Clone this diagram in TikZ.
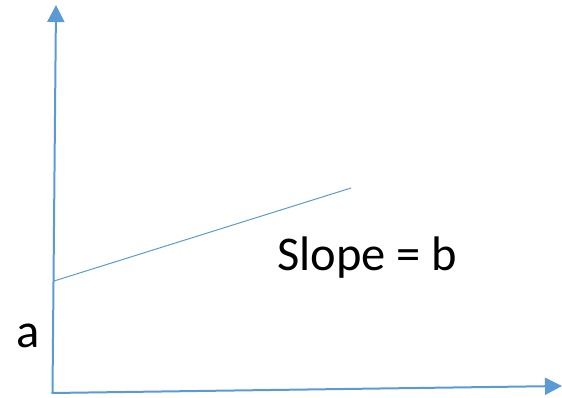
\documentclass[tikz,border=0pt]{standalone}
\usepackage{fontspec}
\setmainfont{Carlito}
\usetikzlibrary{arrows.meta}
\definecolor{axisblue}{HTML}{5B9BD5}
\begin{document}
\begin{tikzpicture}[x=1pt,y=-1pt,
  axisline/.style={draw=axisblue,line width=2pt,-{Triangle[length=17pt,width=17pt]}},
  slopeline/.style={draw=axisblue,line width=1pt},
  lbl/.style={font=\fontsize{48.5}{52}\selectfont,inner sep=0pt,anchor=base west}]
\useasboundingbox (0,0) rectangle (562,397);
\coordinate (o) at (52.5,393);
\coordinate (ytop) at (56,5);
\coordinate (xend) at (562,386);
\coordinate (s0) at (54,281);
\coordinate (s1) at (351,188);
\draw[axisline] (o) -- (ytop);
\draw[axisline] ([xshift=-1pt]o) -- (xend);
\draw[slopeline] (s0) -- (s1);
\node[lbl] (slope) at (277,270) {Slope = b};
\node[lbl] (a) at (16,347) {a};
\end{tikzpicture}
\end{document}
